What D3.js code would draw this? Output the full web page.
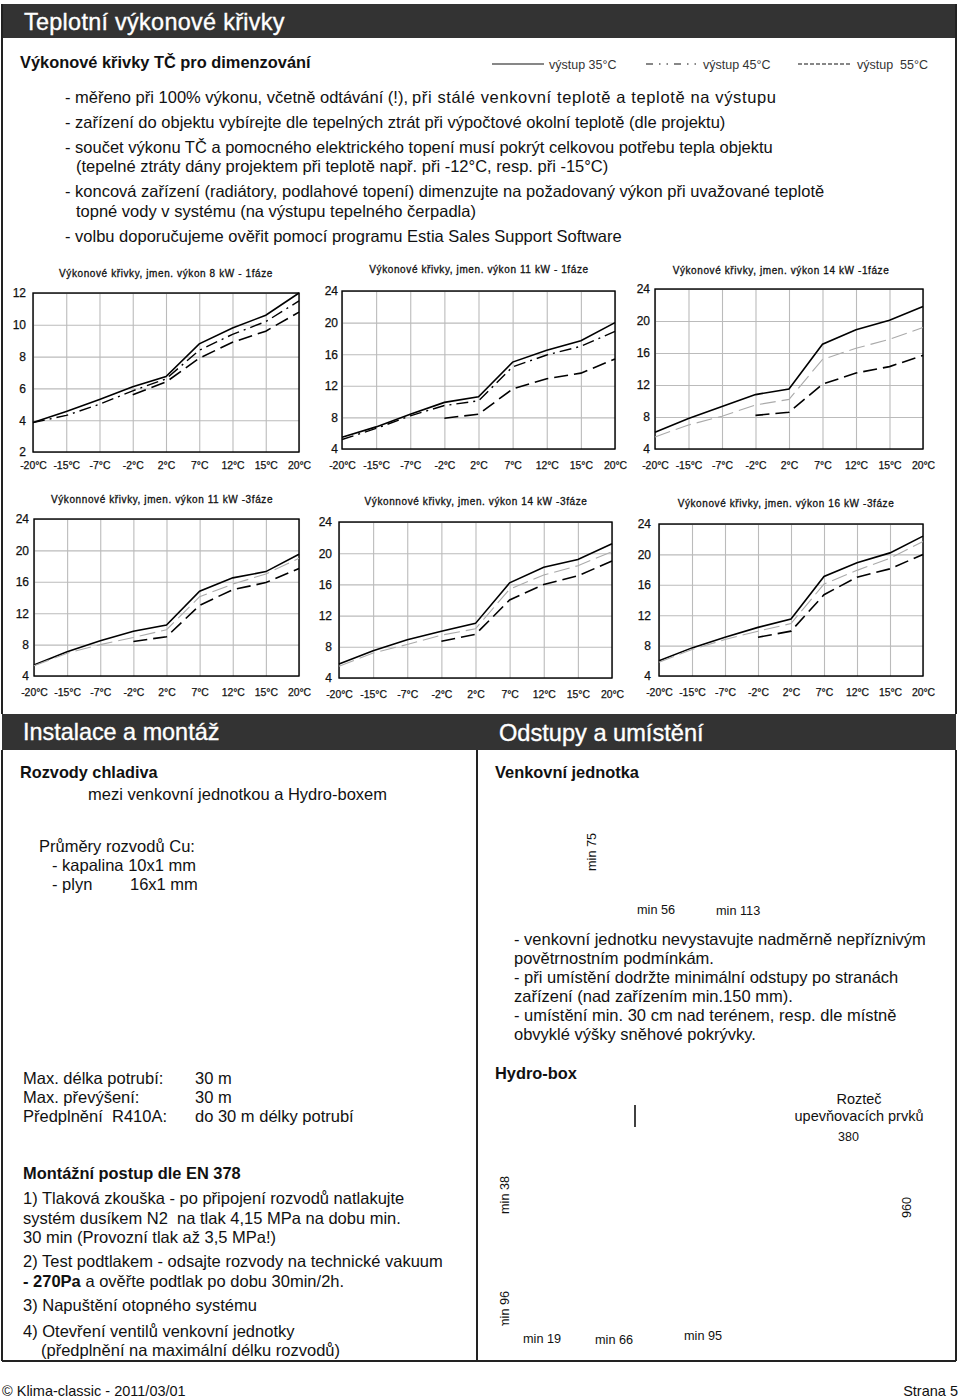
<!DOCTYPE html>
<html><head><meta charset="utf-8">
<script src="https://cdn.jsdelivr.net/npm/d3@7/dist/d3.min.js"></script>
<style>html,body{margin:0;padding:0;background:#fff}svg{display:block}text{font-family:"Liberation Sans",Arial,sans-serif;fill:#111}</style>
</head><body><svg id="page" width="960" height="1400"></svg>
<script>
const categories=["-20°C","-15°C","-7°C","-2°C","2°C","7°C","12°C","15°C","20°C"];
const legendLabels=["výstup 35°C","výstup 45°C","výstup  55°C"];
const chartTitles=["Výkonové křivky, jmen. výkon 8 kW - 1fáze","Výkonové křivky, jmen. výkon 11 kW - 1fáze","Výkonové křivky, jmen. výkon 14 kW -1fáze","Výkonnové křivky, jmen. výkon 11 kW -3fáze","Výkonnové křivky, jmen. výkon 14 kW -3fáze","Výkonové křivky, jmen. výkon 16 kW -3fáze"];
const yTicksSmall=[2,4,6,8,10,12];
const yTicksLarge=[4,8,12,16,20,24];
const out35=[
[3.85,4.55,5.3,6.1,6.75,8.8,9.8,10.6,12],
[5.5,6.8,8.4,9.9,10.6,15,16.5,17.7,20],
[6.1,7.8,9.3,10.8,11.5,17.1,18.9,20.1,21.8],
[5.4,7.1,8.5,9.7,10.5,14.8,16.5,17.3,19.5],
[5.8,7.5,8.9,10,11,16.2,18.2,19.2,21.2],
[6,7.7,9.1,10.4,11.5,17.1,18.9,20.2,22.4]];
const out45=[
[3.85,4.3,5,5.85,6.6,8.4,9.4,10.2,11.5],
[5.2,6.6,8.2,9.5,10.1,14.4,15.9,17,18.9],
[5.5,7,8.1,9.5,10.2,15.2,16.6,17.7,19.2],
[5.3,6.9,8,8.9,9.9,14.1,15.7,17,19],
[5.5,7.2,8.3,9.5,10.3,15.4,17.2,18.4,20.2],
[5.8,7.5,8.8,9.9,10.9,16.1,17.9,19.5,21.7]];
const out55=[
[null,null,null,5.6,6.4,7.9,8.9,9.6,10.8],
[null,null,null,7.9,8.4,11.6,12.9,13.6,15.4],
[null,null,null,8.2,8.6,12.1,13.5,14.3,15.7],
[null,null,null,8.4,9,13,15,15.9,17.7],
[null,null,null,8.7,9.6,14,16,17.1,19],
[null,null,null,9.1,9.9,14.7,17,18.1,20]];

const svg=d3.select("#page");
const dark="#333";
function txt(s,x,y,size,opt={}){
  const t=svg.append("text").attr("x",x).attr("y",y).attr("font-size",size).text(s).style("white-space","pre");
  if(opt.bold)t.attr("font-weight","bold");
  if(opt.fill)t.style("fill",opt.fill);
  if(opt.anchor)t.attr("text-anchor",opt.anchor);
  if(opt.rot)t.attr("transform",`rotate(${opt.rot} ${x} ${y})`);
  return t;
}
function rect(x,y,w,h,fill){return svg.append("rect").attr("x",x).attr("y",y).attr("width",w).attr("height",h).attr("fill",fill);}
function line(x1,y1,x2,y2,c,w){return svg.append("line").attr("x1",x1).attr("y1",y1).attr("x2",x2).attr("y2",y2).attr("stroke",c).attr("stroke-width",w);}
function head(s,x,y,size){return txt(s,x,y,size,{fill:"#fff"}).style("stroke","#fff").style("stroke-width",0.35);}

// frames and header bars
rect(2,4,954,34,dark);
head("Teplotní výkonové křivky",24,30,23.4).style("letter-spacing","0.3px");
line(2,4,2,714,"#222",2);line(956,4,956,714,"#222",2);
rect(2,714,954,36,dark);
head("Instalace a montáž",23,740,23.4);
head("Odstupy a umístění",499,741,23.6);
line(2,750,2,1361,"#222",2);line(956,750,956,1361,"#222",2);
line(477,750,477,1361,"#222",2);
line(2,1361,956,1361,"#222",2);

// legend
txt("Výkonové křivky TČ pro dimenzování",20,68,16.4,{bold:true});
const legY=64;
line(492,legY,544,legY,"#111",1.2);
line(646,legY,698,legY,"#111",1.2).attr("stroke-dasharray","7 6 1.5 6 1.5 6");
line(798,legY,852,legY,"#111",1.2).attr("stroke-dasharray","4 2");
txt(legendLabels[0],549,69,12.5,{fill:"#333"});
txt(legendLabels[1],703,69,12.5,{fill:"#333"});
txt(legendLabels[2],857,69,12.5,{fill:"#333"});

// body text
const s=16.5;
txt("- měřeno při 100% výkonu, včetně odtávání (!),",65,103,s);
txt("při stálé venkovní teplotě a teplotě na výstupu",412,103,s).attr("textLength",364);
[["- zařízení do objektu vybírejte dle tepelných ztrát při výpočtové okolní teplotě (dle projektu)",65,128],
["- součet výkonu TČ a pomocného elektrického topení musí pokrýt celkovou potřebu tepla objektu",65,153],
["(tepelné ztráty dány projektem při teplotě např. při -12°C, resp. při -15°C)",76,172],
["- koncová zařízení (radiátory, podlahové topení) dimenzujte na požadovaný výkon při uvažované teplotě",65,197],
["topné vody v systému (na výstupu tepelného čerpadla)",76,217],
["- volbu doporučujeme ověřit pomocí programu Estia Sales Support Software",65,242]
].forEach(d=>txt(d[0],d[1],d[2],s));

// charts
const boxes=[
{l:33,r:299,t:293,b:452,tx:166,ty:277,py:7,px:10},
{l:342,r:615,t:291,b:449,tx:479,ty:273,py:4,px:13},
{l:655,r:923,t:289,b:449,tx:781,ty:274,py:5,px:13},
{l:34,r:299,t:519,b:676,tx:162,ty:503,py:5,px:13},
{l:339,r:612,t:522,b:678,tx:476,ty:505,py:7,px:13},
{l:659,r:923,t:524,b:676,tx:786,ty:507,py:8,px:13}];
boxes.forEach((b,i)=>{
  const ticks=i===0?yTicksSmall:yTicksLarge;
  const x=d3.scalePoint().domain(categories).range([b.l,b.r]);
  const y=d3.scaleLinear().domain(d3.extent(ticks)).range([b.b,b.t]);
  const g=svg.append("g");
  const ya=g.append("g").attr("transform",`translate(${b.l},0)`).call(d3.axisLeft(y).tickValues(ticks).tickSize(-(b.r-b.l)).tickPadding(b.py).tickFormat(d3.format("d")));
  const xa=g.append("g").attr("transform",`translate(0,${b.b})`).call(d3.axisBottom(x).tickSize(-(b.b-b.t)).tickPadding(b.px));
  [ya,xa].forEach(a=>{
    a.select(".domain").remove();
    a.selectAll("line").attr("stroke","#bbb").attr("stroke-width",1.1);
    a.selectAll("text").style("fill","#111").style("stroke","#111").style("stroke-width",0.25).attr("font-family","Liberation Sans");
  });
  ya.selectAll("text").attr("font-size",12);
  xa.selectAll("text").attr("font-size",10.4);
  g.append("rect").attr("x",b.l).attr("y",b.t).attr("width",b.r-b.l).attr("height",b.b-b.t).attr("fill","none").attr("stroke","#000").attr("stroke-width",1.4);
  const gen=d3.line().defined(d=>d!=null).x((d,j)=>x(categories[j])).y(d=>y(d));
  const dark45=i<2;
  g.append("path").datum(out35[i]).attr("d",gen).attr("fill","none").attr("stroke","#000").attr("stroke-width",1.6);
  g.append("path").datum(out45[i]).attr("d",gen).attr("fill","none").attr("stroke",dark45?"#000":"#aaa").attr("stroke-width",dark45?1.4:1.1).attr("stroke-dasharray",dark45?"12 5 2 5":"16 6");
  g.append("path").datum(out55[i]).attr("d",gen).attr("fill","none").attr("stroke","#000").attr("stroke-width",1.6).attr("stroke-dasharray","14 6");
  txt(chartTitles[i],b.tx,b.ty,10,{anchor:"middle"}).style("stroke","#111").style("stroke-width",0.3).style("letter-spacing","0.6px");
});

// lower left
const L=16.5;
txt("Rozvody chladiva",20,778,16.3,{bold:true});
txt("mezi venkovní jednotkou a Hydro-boxem",88,800,L);
txt("Průměry rozvodů Cu:",39,852,L);
txt("- kapalina 10x1 mm",52,871,L);
txt("- plyn",52,890,L);
txt("16x1 mm",130,890,L);
txt("Max. délka potrubí:",23,1084,L);
txt("30 m",195,1084,L);
txt("Max. převýšení:",23,1103,L);
txt("30 m",195,1103,L);
txt("Předplnění  R410A:",23,1122,L);
txt("do 30 m délky potrubí",195,1122,L);
txt("Montážní postup dle EN 378",23,1179,16.4,{bold:true});
[["1) Tlaková zkouška - po připojení rozvodů natlakujte",23,1204],
["systém dusíkem N2  na tlak 4,15 MPa na dobu min.",23,1224],
["30 min (Provozní tlak až 3,5 MPa!)",23,1243],
["2) Test podtlakem - odsajte rozvody na technické vakuum",23,1267],
["3) Napuštění otopného systému",23,1311],
["4) Otevření ventilů venkovní jednotky",23,1337],
["(předplnění na maximální délku rozvodů)",41,1356]].forEach(d=>txt(d[0],d[1],d[2],L));
const b270=txt("",23,1287,L);
b270.append("tspan").attr("font-weight","bold").text("- 270Pa");
b270.append("tspan").text(" a ověřte podtlak po dobu 30min/2h.");

// lower right
txt("Venkovní jednotka",495,778,16.4,{bold:true});
txt("min 75",596,871,12.7,{rot:-90});
txt("min 56",637,914,12.7);
txt("min 113",716,915,12.7);
[["- venkovní jednotku nevystavujte nadměrně nepříznivým",514,945],
["povětrnostním podmínkám.",514,964],
["- při umístění dodržte minimální odstupy po stranách",514,983],
["zařízení (nad zařízením min.150 mm).",514,1002],
["- umístění min. 30 cm nad terénem, resp. dle místně",514,1021],
["obvyklé výšky sněhové pokrývky.",514,1040]].forEach(d=>txt(d[0],d[1],d[2],L));
txt("Hydro-box",495,1079,16.4,{bold:true});
line(635,1105,635,1127,"#111",1.6);
txt("Rozteč",859,1104,14.5,{anchor:"middle"});
txt("upevňovacích prvků",859,1121,14.5,{anchor:"middle"});
txt("380",838,1141,12.5);
txt("min 38",509,1214,12.7,{rot:-90});
txt("960",911,1218,12.7,{rot:-90});
txt("min 96",509,1329,12.7,{rot:-90});
rect(495,1326,16,6,"#fff");
txt("min 19",523,1343,12.7);
txt("min 66",595,1344,12.7);
txt("min 95",684,1340,12.7);

// footer
txt("© Klima-classic - 2011/03/01",2,1396,14.5);
txt("Strana 5",958,1396,14.5,{anchor:"end"});
</script></body></html>
